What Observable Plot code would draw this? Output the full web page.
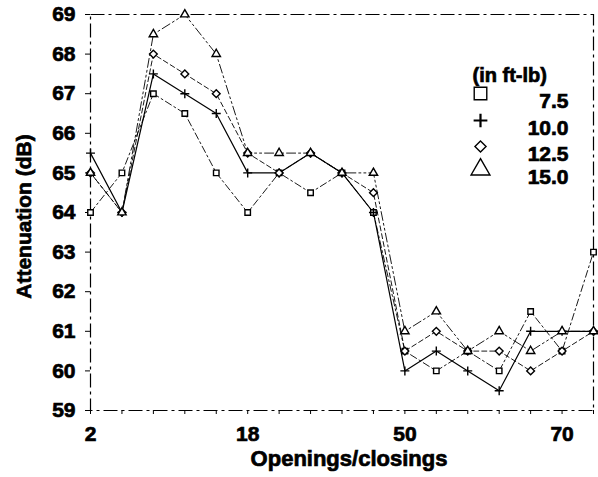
<!DOCTYPE html>
<html>
<head>
<meta charset="utf-8">
<script src="https://cdn.jsdelivr.net/npm/d3@7"></script>
<script src="https://cdn.jsdelivr.net/npm/@observablehq/plot@0.6"></script>
<style>
  html, body { margin: 0; padding: 0; background: #fff; }
  #chart svg { font-family: "Liberation Sans", Arial, sans-serif; }
  #chart svg text { stroke: #000; stroke-width: 0.7px; }
</style>
</head>
<body>
<div id="chart"></div>
<script>
// Cycle positions along the x axis (evenly spaced) and their labels
const cycleIndex = d3.range(17);
const tickPositions = [0, 5, 10, 15];
const tickLabels = ["2", "18", "50", "70"];

// Impact energies (ft-lb) and attenuation readings (dB) per cycle
const energies = ["7.5", "10.0", "12.5", "15.0"];
const atten75  = [64, 65, 67, 66.5, 65, 64, 65, 64.5, 65, 64, 60.5, 60, 60.5, 60, 61.5, 60.5, 63];
const atten100 = [65.5, 64, 67.5, 67, 66.5, 65, 65, 65.5, 65, 64, 60, 60.5, 60, 59.5, 61, 61, 61];
const atten125 = [65, 64, 68, 67.5, 67, 65.5, 65, 65.5, 65, 64.5, 60.5, 61, 60.5, 60.5, 60, 60.5, 61];
const atten150 = [65, 64, 68.5, 69, 68, 65.5, 65.5, 65.5, 65, 65, 61, 61.5, 60.5, 61, 60.5, 61, 61];
const yTicks = d3.range(59, 70);

const seriesValues = [atten75, atten100, atten125, atten150];
const symbols = ["square2", "plus", "diamond2", "triangle2"];
const dashes = ["7,3,2,3", null, "5,3", "9,3,2,3,2,3"];

const rows = [];
energies.forEach((e, s) => seriesValues[s].forEach((v, i) => rows.push({energy: e, s, i: cycleIndex[i], v})));

const font = {fontWeight: "bold", fontSize: 21, fill: "#000"};

const marks = [
  Plot.frame({stroke: "#000", strokeWidth: 1.2, strokeDasharray: "14,4,3,4"}),
  Plot.axisY(yTicks, {tickSize: 5, tickPadding: 10, ...font, label: null}),
  Plot.axisX(cycleIndex, {tickSize: 4, tickFormat: () => "", label: null}),
  Plot.axisX(tickPositions, {tickSize: 0, tickPadding: 16, tickFormat: (d) => tickLabels[tickPositions.indexOf(d)], ...font, label: null}),
  Plot.text(["Attenuation (dB)"], {frameAnchor: "left", textAnchor: "middle", rotate: -90, dx: -66, dy: 4, ...font}),
  Plot.text(["Openings/closings"], {frameAnchor: "bottom", textAnchor: "middle", dy: 55, dx: 7, ...font, fontSize: 22})
];

energies.forEach((e, s) => {
  const data = rows.filter((d) => d.s === s);
  marks.push(Plot.line(data, {x: "i", y: "v", stroke: "#000", strokeWidth: s === 1 ? 1.2 : 0.9, strokeDasharray: dashes[s]}));
});
const dotR = [3.5, 3, 3.5, 4];
energies.forEach((e, s) => {
  const data = rows.filter((d) => d.s === s);
  marks.push(Plot.dot(data, {x: "i", y: "v", symbol: symbols[s], r: dotR[s], stroke: "#000", strokeWidth: 1.4, fill: "#fff"}));
});

// Legend block in the upper right corner of the frame
marks.push(Plot.text(["(in ft-lb)"], {frameAnchor: "top-right", textAnchor: "start", dx: -121, dy: 53, ...font, fontSize: 20}));
const legendDy = [79, 106, 132, 155];
const legendR = [8, 4.5, 5, 9];
energies.forEach((e, s) => {
  marks.push(Plot.dot([e], {frameAnchor: "top-right", dx: -113, dy: legendDy[s], symbol: symbols[s], r: legendR[s], stroke: "#000", strokeWidth: s === 1 ? 2.2 : 1.4, fill: "none"}));
  marks.push(Plot.text([e], {frameAnchor: "top-right", textAnchor: "end", dx: -25, dy: legendDy[s], ...font}));
});

const chart = Plot.plot({
  width: 598,
  height: 477,
  marginLeft: 90,
  marginRight: 5,
  marginTop: 14,
  marginBottom: 67,
  style: {background: "#fff", color: "#000"},
  x: {type: "linear", domain: [0, 16]},
  y: {domain: [59, 69]},
  marks
});
document.getElementById("chart").append(chart);
</script>
</body>
</html>
